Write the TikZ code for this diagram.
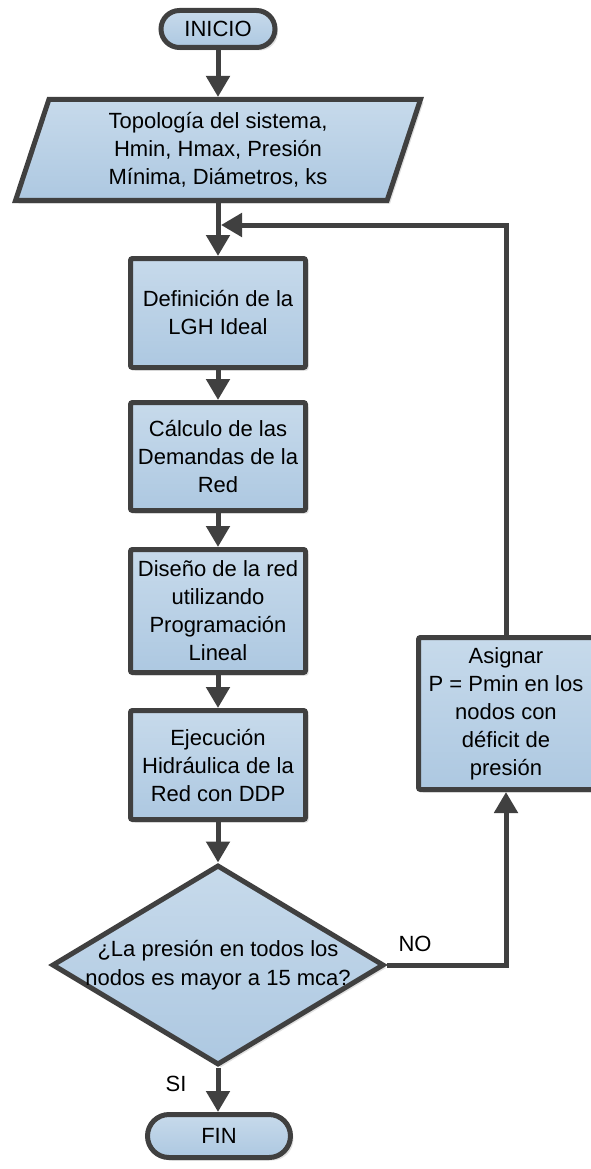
\documentclass[tikz,border=0pt]{standalone}
\usepackage{fontspec}
\setmainfont{Liberation Sans}
\usetikzlibrary{arrows.meta,shapes.geometric,shapes.misc,shadows}
\definecolor{edge}{HTML}{404040}
\definecolor{filltop}{HTML}{C7DAEB}
\definecolor{fillbot}{HTML}{ADC8E1}
\begin{document}
\begin{tikzpicture}[x=1pt,y=-1pt,
  base/.style={draw=edge, line width=5pt, top color=filltop, bottom color=fillbot,
    font=\fontsize{22}{28}\selectfont, align=center, inner sep=0pt,
    drop shadow={shadow xshift=3pt, shadow yshift=-3pt, fill=black, opacity=0.12}},
  term/.style={base, rounded rectangle},
  io/.style={base, trapezium, trapezium left angle=66, trapezium right angle=114, trapezium stretches body},
  proc/.style={base, rectangle, rounded corners=2pt, minimum width=175pt},
  decision/.style={base, diamond},
  arr/.style={draw=edge, line width=5pt, line join=miter, -{Triangle[length=21pt,width=23pt]}},
  lbl/.style={font=\fontsize{22}{26}\selectfont, inner sep=0pt}
]
\path[use as bounding box, clip] (0,0) rectangle (591,1169);

\node[term, minimum width=114pt, minimum height=37pt] (ini) at (218,29) {INICIO};
\node[io, minimum width=405pt, minimum height=101pt] (dat) at (218,150)
  {Topología del sistema,\\Hmin, Hmax, Presión\\Mínima, Diámetros, ks};
\node[proc, minimum height=109pt] (b1) at (218,313) {Definición de la\\LGH Ideal};
\node[proc, minimum height=108pt] (b2) at (218,456.5) {Cálculo de las\\Demandas de la\\Red};
\node[proc, minimum height=123pt] (b3) at (218,611) {Diseño de la red\\utilizando\\Programación\\Lineal};
\node[proc, minimum height=109pt] (b4) at (218,765) {Ejecución\\Hidráulica de la\\Red con DDP};
\node[proc, minimum height=152pt] (fb) at (506,713.5) {Asignar\\P = Pmin en los\\nodos con\\déficit de\\presión};
\node[decision, minimum width=332pt, minimum height=200pt] (dec) at (218,965) {};
\node[font=\fontsize{22}{29}\selectfont, align=center, inner sep=0pt] (dect) at (dec.center)
  {¿La presión en todos los\\nodos es mayor a 15 mca?};
\node[term, minimum width=143pt, minimum height=43pt] (fin) at (219,1136) {FIN};

\coordinate (join) at (221,225);

\draw[arr] (ini.south) -- (ini.south |- dat.north);
\draw[arr] (dat.south -| b1.north) -- (b1.north);
\draw[arr] (b1.south) -- (b2.north);
\draw[arr] (b2.south) -- (b3.north);
\draw[arr] (b3.south) -- (b4.north);
\draw[arr] (b4.south) -- (dec.north);
\draw[arr] (dec.south) -- (dec.south |- fin.north);
\draw[arr] (dec.east) -| (fb.south);
\draw[arr] (fb.north) |- (join);

\node[lbl] (no) at (415,944) {NO};
\node[lbl] (si) at (176,1084) {SI};
\end{tikzpicture}
\end{document}
